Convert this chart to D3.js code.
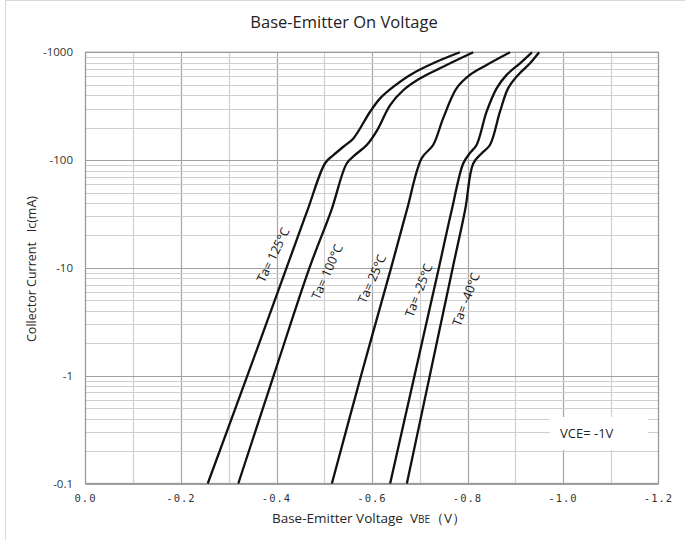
<!DOCTYPE html>
<html>
<head>
<meta charset="utf-8">
<script src="https://d3js.org/d3.v7.min.js"></script>
<style>
  body { margin: 0; background: #fff; }
</style>
</head>
<body>
<script>
	// size of the svg
	var w = 685;
	var h = 540;

	// tick labels
	var xTicks = [0, -0.2, -0.4, -0.6, -0.8, -1.0, -1.2];
	var xTickLabels = ["0.0", "-0.2", "-0.4", "-0.6", "-0.8", "-1.0", "-1.2"];
	var yTicks = [-1000, -100, -10, -1, -0.1];
	var yTickLabels = ["-1000", "-100", "-10", "-1", "-0.1"];

	// curves (VBE in V, Ic in mA)
	var labels = ["Ta= 125°C", "Ta= 100°C", "Ta= 25°C", "Ta= -25°C", "Ta= -40°C"];

	var vbe125 = [-0.256, -0.339, -0.421, -0.465, -0.502, -0.519, -0.540, -0.561, -0.596, -0.617, -0.645, -0.680, -0.728, -0.784];
	var ic125 = [-0.1, -1, -10, -34.4, -94, -111, -133, -159, -281, -374, -480, -617, -791, -1000];

	var vbe100 = [-0.320, -0.394, -0.469, -0.515, -0.547, -0.564, -0.589, -0.611, -0.638, -0.666, -0.701, -0.749, -0.812];
	var ic100 = [-0.1, -1, -10, -34.4, -93, -111, -138, -190, -324, -447, -574, -735, -1000];

	var vbe25 = [-0.516, -0.577, -0.640, -0.673, -0.704, -0.728, -0.749, -0.777, -0.805, -0.840, -0.889];
	var ic25 = [-0.1, -1, -10, -34.4, -104, -138, -244, -463, -617, -762, -1000];

	var vbeM25 = [-0.638, -0.689, -0.740, -0.767, -0.791, -0.805, -0.819, -0.840, -0.861, -0.882, -0.910, -0.935];
	var icM25 = [-0.1, -1, -10, -34.4, -93, -116, -138, -281, -463, -617, -791, -1000];

	var vbeM40 = [-0.673, -0.721, -0.769, -0.795, -0.812, -0.830, -0.847, -0.868, -0.885, -0.906, -0.931, -0.950];
	var icM40 = [-0.1, -1, -10, -34.4, -93, -116, -138, -281, -463, -617, -791, -1000];

	// where the rotated labels sit (in data units) and their angle
	var labelV = [-0.393, -0.506, -0.600, -0.698, -0.797];
	var labelI = [-13.2, -9.2, -7.9, -6.2, -5.1];
	var labelAngle = [-64, -66, -66, -69, -69];

	var vbeAll = [vbe125, vbe100, vbe25, vbeM25, vbeM40];
	var icAll = [ic125, ic100, ic25, icM25, icM40];

	var svg = d3.select("body")
				.append("svg")
				.attr("width", w)
				.attr("height", h);

	// light outer frame of the chart
	svg.append("rect")
		.attr("x", 5.5)
		.attr("y", 0.5)
		.attr("width", 720)
		.attr("height", 580)
		.attr("fill", "#fff")
		.attr("stroke", "#d9d9d9");

	// scales
	var xScale = d3.scaleLinear()
				.domain([0, -1.2])
				.range([85.5, 658.5]);

	var yScale = d3.scaleLog()
				.domain([-0.1, -1000])
				.range([483.5, 52.3]);

	// vertical grid lines, every 0.1 V
	var vLines = d3.range(1, 12).map(function(i) { return -i / 10; });
	svg.selectAll("line.vgrid")
		.data(vLines)
		.enter()
		.append("line")
		.attr("class", "vgrid")
		.attr("x1", function(d) { return Math.round(xScale(d)) + 0.5; })
		.attr("x2", function(d) { return Math.round(xScale(d)) + 0.5; })
		.attr("y1", yScale(-1000))
		.attr("y2", yScale(-0.1))
		.attr("stroke", function(d, i) { return i % 2 ? "#a6a6a6" : "#cfcfcf"; })
		.attr("stroke-width", 1.2);

	// minor horizontal grid lines
	var minor = [];
	[-0.1, -1, -10, -100].forEach(function(dec) {
		for (var k = 2; k <= 9; k++) minor.push(dec * k);
	});
	svg.selectAll("line.hminor")
		.data(minor)
		.enter()
		.append("line")
		.attr("class", "hminor")
		.attr("x1", xScale(0))
		.attr("x2", xScale(-1.2))
		.attr("y1", function(d) { return Math.round(yScale(d)) + 0.5; })
		.attr("y2", function(d) { return Math.round(yScale(d)) + 0.5; })
		.attr("stroke", "#cfcfcf")
		.attr("stroke-width", 1.2);

	// decade lines
	svg.selectAll("line.hmajor")
		.data(yTicks)
		.enter()
		.append("line")
		.attr("class", "hmajor")
		.attr("x1", xScale(0))
		.attr("x2", xScale(-1.2))
		.attr("y1", function(d) { return Math.round(yScale(d)) + 0.5; })
		.attr("y2", function(d) { return Math.round(yScale(d)) + 0.5; })
		.attr("stroke", "#a0a0a0")
		.attr("stroke-width", 1.2);

	// plot border
	svg.append("rect")
		.attr("x", xScale(0))
		.attr("y", yScale(-1000))
		.attr("width", xScale(-1.2) - xScale(0))
		.attr("height", yScale(-0.1) - yScale(-1000))
		.attr("fill", "none")
		.attr("stroke", "#9a9a9a")
		.attr("stroke-width", 1.3);

	// VCE box, covers the grid
	svg.append("rect")
		.attr("x", 550)
		.attr("y", 417)
		.attr("width", 98)
		.attr("height", 33)
		.attr("fill", "#fff");
	svg.append("text")
		.attr("x", 560)
		.attr("y", 438)
		.attr("font-family", "'Open Sans', sans-serif")
		.attr("font-size", "13px")
		.attr("fill", "#262626")
		.text("VCE= -1V");

	// curves
	var line = d3.line()
		.x(function(d) { return xScale(d[0]); })
		.y(function(d) { return yScale(d[1]); })
		.curve(d3.curveCatmullRom.alpha(0.5));

	vbeAll.forEach(function(vs, j) {
		var pts = vs.map(function(v, i) { return [v, icAll[j][i]]; });
		svg.append("path")
			.datum(pts)
			.attr("d", line)
			.attr("fill", "none")
			.attr("stroke", "#111")
			.attr("stroke-width", 2.3);
	});

	// curve labels
	svg.selectAll("text.curve")
		.data(labels)
		.enter()
		.append("text")
		.attr("class", "curve")
		.attr("transform", function(d, i) {
			return "translate(" + xScale(labelV[i]) + "," + yScale(labelI[i]) + ") rotate(" + labelAngle[i] + ")";
		})
		.attr("text-anchor", "middle")
		.attr("dy", "0.35em")
		.attr("font-family", "'Open Sans', sans-serif")
		.attr("font-size", "12.5px")
		.attr("fill", "#111")
		.text(function(d) { return d; });

	// y tick labels
	svg.selectAll("text.ytick")
		.data(yTicks)
		.enter()
		.append("text")
		.attr("class", "ytick")
		.attr("x", 73)
		.attr("y", function(d) { return yScale(d); })
		.attr("dy", "0.35em")
		.attr("text-anchor", "end")
		.attr("font-family", "'Open Sans', sans-serif")
		.attr("font-size", "11.5px")
		.attr("fill", "#333")
		.text(function(d, i) { return yTickLabels[i]; });

	// x tick labels
	svg.selectAll("text.xtick")
		.data(xTicks)
		.enter()
		.append("text")
		.attr("class", "xtick")
		.attr("x", function(d) { return xScale(d); })
		.attr("y", 502)
		.attr("text-anchor", "middle")
		.attr("font-family", "'DejaVu Sans Mono', monospace")
		.attr("font-size", "10.5px")
		.attr("letter-spacing", "1px")
		.attr("fill", "#333")
		.text(function(d, i) { return xTickLabels[i]; });

	// title
	svg.append("text")
		.attr("x", 344)
		.attr("y", 28)
		.attr("text-anchor", "middle")
		.attr("font-family", "'Open Sans', sans-serif")
		.attr("font-size", "16.5px")
		.attr("fill", "#222")
		.text("Base-Emitter On Voltage");

	// axis titles
	var xTitle = svg.append("text")
		.attr("x", 369)
		.attr("y", 523)
		.attr("text-anchor", "middle")
		.attr("font-family", "'Open Sans', sans-serif")
		.attr("font-size", "13.5px")
		.attr("fill", "#262626");
	xTitle.append("tspan").text("Base-Emitter Voltage\u00a0\u00a0V");
	xTitle.append("tspan").attr("font-size", "10px").text("BE");
	xTitle.append("tspan").text("\uff08V\uff09");

	svg.append("text")
		.attr("transform", "translate(36,269) rotate(-90)")
		.attr("text-anchor", "middle")
		.attr("font-family", "'Open Sans', sans-serif")
		.attr("font-size", "12.5px")
		.attr("fill", "#262626")
		.text("Collector Current\u00a0\u00a0\u00a0Ic(mA)");
</script>
</body>
</html>
